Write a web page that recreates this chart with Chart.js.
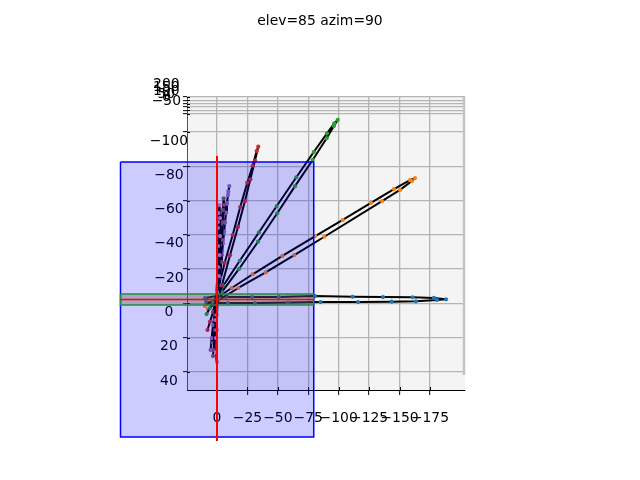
<!DOCTYPE html>
<html lang="en">

<head>
    <meta charset="UTF-8">
    <title>elev=85 azim=90</title>
    <style>
        body { margin: 0; background: #fff; }
    </style>
</head>

<body>
    <canvas id="myChart" width="640" height="480"></canvas>

    <script src="https://cdn.jsdelivr.net/npm/chart.js"></script>
    <script>
        const xTicks = [0, -25, -50, -75, -100, -125, -150, -175];
        const xTickLabels = ['0', '−25', '−50', '−75', '−100', '−125', '−150', '−175'];
        const yTicks = [-100, -80, -60, -40, -20, 0, 20, 40];
        const yTickLabels = ['−100', '−80', '−60', '−40', '−20', '0', '20', '40'];
        const zTicks = [200, 150, 100, 50, 0, -50];
        const zTickLabels = ['200', '150', '100', '50', '0', '−50'];

        const blueX = [9.9, 0, -7.4, -28.8, -50.9, -80.5, -111.4, -136.4, -160.7, -178.3, -188.2, -180.8, -163.5, -143.5, -115.9, -85.1, -58.3, -31.2, -9, 0, 9];
        const blueY = [-3.1, -4.3, -3.7, -3.7, -3.7, -4.3, -3.9, -3.7, -3.6, -3.2, -2.4, -2, -1.2, -1, -0.8, -0.8, -0.5, -0.2, -0.2, -0.2, -0.8];
        const orangeX = [9.9, 0, -12.1, -29.3, -53.7, -80.8, -103.3, -126.5, -145.4, -158.6, -162.7, -160.2, -150.4, -135.6, -88.2, -63.5, -40, -17.5, -1.6, 7.4];
        const orangeY = [1.5, -3.2, -9, -17, -27.7, -39.3, -48.7, -58.6, -66.7, -71.9, -73.1, -71.4, -66.2, -59.7, -38.9, -28.2, -18.1, -9, -2, 3.3];
        const greenX = [8.5, 3.3, -5.2, -18.7, -34.5, -49.1, -65.2, -79.5, -90.4, -96.4, -99.2, -96.1, -90.1, -78.6, -64.1, -49.5, -33.7, -18.1, -4.1, 5.8];
        const greenY = [6.2, -0.8, -10.3, -24.9, -41.5, -56.8, -73.6, -88.3, -99.2, -105.1, -107, -103.5, -96.3, -83.7, -68.4, -52.6, -36, -20.1, -6.7, 2.7];
        const redX = [7.8, 3.3, -0.8, -6.3, -12.9, -19.1, -24.9, -29.3, -32.6, -33.9, -31.2, -27.4, -23, -17.3, -10.7, -4.1, 5.8];
        const redY = [15.5, 5, -7.8, -23.7, -39.9, -56.2, -70.4, -80.3, -88.9, -91.4, -83.3, -72.4, -59.7, -44.7, -28.1, -10.7, 10.7];
        const purpleX = [5.3, 4.4, 3.3, -1.6, -3.3, -4.1, -4.9, -5.8, -6.6, -7.4, -8.2, -9.3, -10.1, -9, -8.2, -7.4, -6.6, -5.8, -4.9, -4.1, -2.5, 1.6, 3.3];
        const purpleY = [27.2, 20.2, 12.6, -10.7, -24.2, -30.5, -37, -42, -47.5, -53, -58, -65.2, -68.5, -63.2, -58.5, -52.7, -47, -41.1, -35, -28.2, -14.8, 9.7, 23.1];
        const brownX = [3.3, 1.6, -0.8, -1.6, -2.5, -3.3, -4.7, -5.5, -5.8, -4.9, -4.1, -3.3, -1.6, 0.8, 2.5];
        const brownY = [30.7, 15.5, -4.9, -20.7, -34.1, -46.3, -54.4, -61.3, -57.4, -47.4, -37, -24.2, -10.7, 6.8, 27.2];
        const pinkX = [0, 0.8, 0.8, 0, -0.8, -0.8, -0.8, -0.8, -1.2, -2.1, -2.5, -2.5, -2.2, -1.6, 0, 0, 0.8];
        const pinkY = [34.2, 20.2, 9.7, -6.6, -21.2, -33.5, -44, -47.5, -52.7, -57.4, -49.8, -39.3, -28.2, -16, 6.8, 15.5, 28.4];

        const blueRectX = [79.3, -79.5, -79.5, 79.3, 79.3];
        const blueRectY = [-82.5, -82.5, 77.9, 77.9, -82.5];
        const greenRectX = [79.3, -79.5, -79.5, 79.3, 79.3];
        const greenRectY = [-5.5, -5.5, 0.9, 0.9, -5.5];
        const redLineX = [79.3, -79.5];
        const redLineY = [-2.3, -2.3];
        const redStemX = [0, 0];
        const redStemY = [-86, 80.3];
        const paneEdgeX = [-203, -203];
        const paneEdgeY = [-120.4, 41.8];

        const zip = (xs, ys) => xs.map((x, i) => ({ x: x, y: ys[i] }));

        function series(xs, ys, color) {
            return {
                data: zip(xs, ys),
                showLine: true,
                borderColor: '#000',
                borderWidth: 2,
                borderJoinStyle: 'round',
                backgroundColor: color,
                pointBackgroundColor: color,
                pointBorderWidth: 0,
                pointRadius: 2.1
            };
        }

        function outline(xs, ys, color, width, fill) {
            return {
                data: zip(xs, ys),
                showLine: true,
                clip: false,
                borderColor: color,
                borderWidth: width,
                rectFill: fill,
                pointRadius: 0
            };
        }

        // pane colour, the inner part of the ticks, and rectangle fills that overflow the axes
        const paneAndTicks = {
            id: 'paneAndTicks',
            afterLayout(chart) {
                // labels get clipped to the scale box, z has no width of its own
                chart.scales.z.left = chart.scales.y.left;
            },
            beforeDraw(chart) {
                const a = chart.chartArea;
                chart.ctx.fillStyle = '#f4f4f4';
                chart.ctx.fillRect(a.left, a.top, a.right - a.left, a.bottom - a.top);
            },
            beforeDatasetsDraw(chart) {
                const a = chart.chartArea, ctx = chart.ctx;
                ctx.save();
                ctx.strokeStyle = '#000';
                ctx.lineWidth = 1;
                ctx.beginPath();
                chart.scales.x.ticks.forEach(t => {
                    const p = Math.round(chart.scales.x.getPixelForValue(t.value)) + 0.5;
                    ctx.moveTo(p, a.bottom);
                    ctx.lineTo(p, a.bottom - 3);
                });
                ['y', 'z'].forEach(id => {
                    chart.scales[id].ticks.forEach(t => {
                        const p = Math.round(chart.scales[id].getPixelForValue(t.value)) + 0.5;
                        ctx.moveTo(a.left, p);
                        ctx.lineTo(a.left + 3, p);
                    });
                });
                ctx.stroke();
                ctx.restore();
            },
            beforeDatasetDraw(chart, args) {
                const fill = chart.data.datasets[args.index].rectFill;
                if (!fill) return;
                const ctx = chart.ctx;
                ctx.save();
                ctx.fillStyle = fill;
                ctx.beginPath();
                args.meta.data.forEach(p => ctx.lineTo(p.x, p.y));
                ctx.fill();
                ctx.restore();
            }
        };

        const tickFont = { family: '"DejaVu Sans"', size: 13.9 };
        const gridStyle = { color: '#b4b4b4', lineWidth: 1.3, tickColor: '#000', tickWidth: 1, tickLength: 4 };

        new Chart(document.getElementById('myChart'), {
            type: 'scatter',
            plugins: [paneAndTicks],
            data: {
                datasets: [
                    outline(redStemX, redStemY, '#ff0000', 2),
                    outline(redLineX, redLineY, '#ff0000', 1.6),
                    outline(greenRectX, greenRectY, '#1f8a4c', 1.5, 'rgba(110, 95, 60, 0.35)'),
                    outline(blueRectX, blueRectY, '#0000ff', 1.5, 'rgba(0, 0, 255, 0.2)'),
                    series(pinkX, pinkY, '#e377c2'),
                    series(brownX, brownY, '#8c564b'),
                    series(purpleX, purpleY, '#9467bd'),
                    series(redX, redY, '#d62728'),
                    series(greenX, greenY, '#2ca02c'),
                    series(orangeX, orangeY, '#ff7f0e'),
                    series(blueX, blueY, '#1f77b4'),
                    outline(paneEdgeX, paneEdgeY, '#c4c4c4', 2.5)
                ]
            },
            options: {
                responsive: false,
                animation: false,
                plugins: {
                    legend: { display: false },
                    tooltip: { enabled: false },
                    title: {
                        display: true,
                        text: 'elev=85 azim=90',
                        color: '#000',
                        font: { family: '"DejaVu Sans"', size: 13.9, weight: 'normal', lineHeight: 1.2 },
                        padding: { top: 12.66, bottom: 67.66 }
                    }
                },
                scales: {
                    x: {
                        type: 'linear',
                        reverse: true,
                        min: -203.8,
                        max: 24.65,
                        grid: { ...gridStyle, tickLength: 5 },
                        border: { color: '#000', width: 1 },
                        afterBuildTicks: s => { s.ticks = xTicks.map(v => ({ value: v })); },
                        afterFit: s => { s.height = 90; },
                        ticks: {
                            color: '#000',
                            font: tickFont,
                            padding: 14.7,
                            maxRotation: 0,
                            autoSkip: false,
                            callback: (v, i) => xTickLabels[i]
                        }
                    },
                    y: {
                        type: 'linear',
                        reverse: true,
                        weight: 1,
                        min: -120.4,
                        max: 50.5,
                        grid: gridStyle,
                        border: { color: '#555', width: 1 },
                        afterBuildTicks: s => { s.ticks = yTicks.map(v => ({ value: v })); },
                        afterFit: s => { s.width = 187; },
                        ticks: {
                            color: '#000',
                            font: tickFont,
                            crossAlign: 'center',
                            padding: -5,
                            labelOffset: 9,
                            autoSkip: false,
                            callback: (v, i) => yTickLabels[i]
                        }
                    },
                    z: {
                        type: 'linear',
                        position: 'left',
                        weight: 0,
                        min: -4239,
                        max: 200,
                        grid: gridStyle,
                        border: { display: false },
                        afterBuildTicks: s => { s.ticks = zTicks.map(v => ({ value: v })); },
                        afterFit: s => { s.width = 0; },
                        ticks: {
                            color: '#000',
                            font: tickFont,
                            crossAlign: 'center',
                            padding: 2,
                            labelOffset: -12.5,
                            autoSkip: false,
                            callback: (v, i) => zTickLabels[i]
                        }
                    },
                    // empty axis that only keeps the space right of the pane
                    gap: {
                        type: 'linear',
                        position: 'right',
                        display: true,
                        grid: { display: false },
                        border: { display: false },
                        ticks: { display: false },
                        afterFit: s => { s.width = 175; }
                    }
                }
            }
        });
    </script>
</body>

</html>
